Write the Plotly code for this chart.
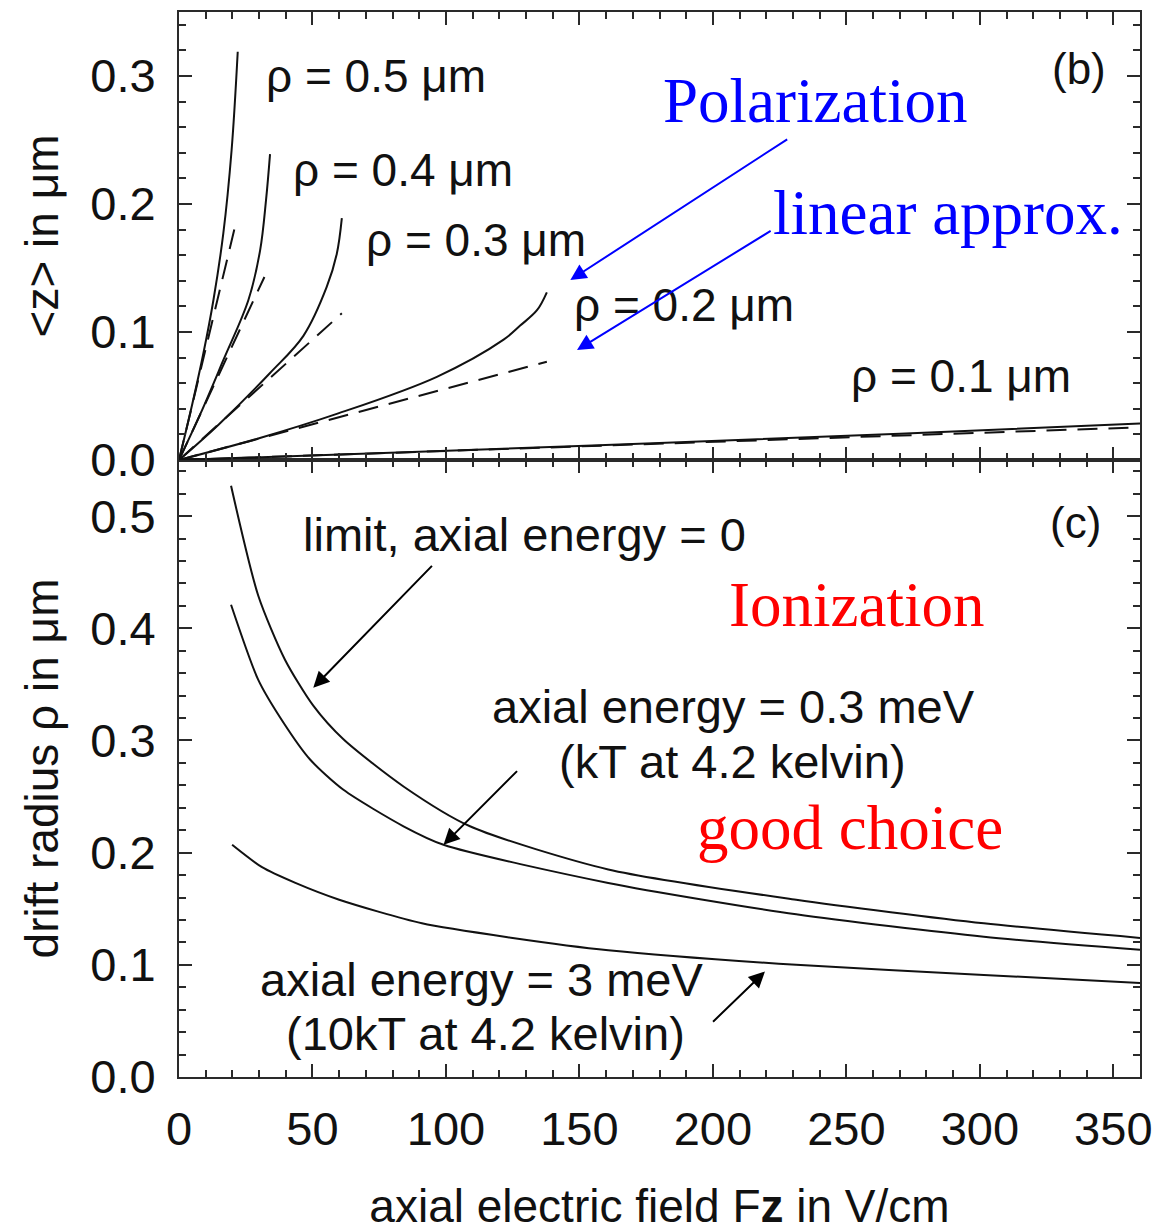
import plotly.graph_objects as go

# ---------------- panel (b): mean axial displacement <z> vs field ----------------
# solid curves: full polarization result, one per drift radius
z05_x = [0, 5, 9.1, 12.9, 16.6, 19.7, 22.0]
z05_y = [0, 0.044, 0.083, 0.125, 0.177, 0.242, 0.319]
z04_x = [0, 8, 16.6, 26.0, 30.4, 32.6, 34.1]
z04_y = [0, 0.036, 0.078, 0.125, 0.164, 0.203, 0.239]
z03_x = [0, 15, 34.1, 46.6, 55.3, 59.1, 61.0]
z03_y = [0, 0.028, 0.068, 0.097, 0.135, 0.161, 0.189]
z02_x = [0, 30, 59.1, 96.6, 121.6, 127.8, 134.1, 137.8]
z02_y = [0, 0.017, 0.036, 0.065, 0.094, 0.105, 0.117, 0.131]
z01_x = [0, 90, 180, 270, 360]
z01_y = [0, 0.0065, 0.0133, 0.0205, 0.0286]

# dashed lines: linear approximation (start and end points)
lin05_x, lin05_y = [0, 21.4], [0, 0.186]
lin04_x, lin04_y = [0, 32.0], [0, 0.143]
lin03_x, lin03_y = [0, 61.0], [0, 0.1146]
lin02_x, lin02_y = [0, 137.8], [0, 0.0768]
lin01_x, lin01_y = [0, 356], [0, 0.0252]

# ---------------- panel (c): drift radius vs field ----------------
lim_x = [19.5, 29.7, 39.7, 50.3, 61.6, 84.1, 109, 160.8, 231.2, 301.5, 360]
lim_y = [0.527, 0.429, 0.372, 0.331, 0.301, 0.259, 0.2235, 0.185, 0.158, 0.137, 0.124]
e03_x = [19.5, 29.7, 39.1, 49.1, 61.6, 84.1, 99.1, 160.8, 231.2, 301.5, 360]
e03_y = [0.421, 0.354, 0.316, 0.283, 0.256, 0.2235, 0.207, 0.173, 0.145, 0.125, 0.1134]
e3_x = [19.9, 31.1, 43.6, 60, 91, 125, 160.8, 231.2, 301.5, 360]
e3_y = [0.207, 0.187, 0.173, 0.158, 0.137, 0.124, 0.113, 0.1, 0.091, 0.0837]

x_range = [0, 360]
zb_range = [0, 0.35]
rc_range = [0, 0.55]

SANS = "Liberation Sans, Arial, sans-serif"
SERIF = "Liberation Serif, Times New Roman, serif"
INK = "#111111"
FRAME = "#2a2a2a"

fig = go.Figure()

solid = dict(color=INK, width=2)
dashed = dict(color=INK, width=2, dash="20px,11px")

for xs, ys in [(z05_x, z05_y), (z04_x, z04_y), (z03_x, z03_y), (z02_x, z02_y), (z01_x, z01_y)]:
    fig.add_trace(go.Scatter(x=xs, y=ys, mode="lines", line=dict(solid, shape="spline"),
                             xaxis="x2", yaxis="y2", showlegend=False, hoverinfo="skip"))
for xs, ys in [(lin05_x, lin05_y), (lin04_x, lin04_y), (lin03_x, lin03_y), (lin02_x, lin02_y), (lin01_x, lin01_y)]:
    fig.add_trace(go.Scatter(x=xs, y=ys, mode="lines", line=dashed,
                             xaxis="x2", yaxis="y2", showlegend=False, hoverinfo="skip"))
for xs, ys in [(lim_x, lim_y), (e03_x, e03_y), (e3_x, e3_y)]:
    fig.add_trace(go.Scatter(x=xs, y=ys, mode="lines",
                             line=dict(solid, shape="spline", smoothing=0.7),
                             xaxis="x", yaxis="y", showlegend=False, hoverinfo="skip"))

SPLIT = 617 / 1065

common_axis = dict(
    showline=True, linewidth=2, linecolor=FRAME, mirror="ticks",
    ticks="inside", ticklen=13, tickwidth=2, tickcolor=FRAME,
    showgrid=False, zeroline=False, automargin=False,
    tickfont=dict(family=SANS, size=47, color="#111"),
)
minor_ticks = dict(ticks="inside", ticklen=7, tickwidth=2, tickcolor=FRAME)

fig.update_layout(
    width=1165, height=1232,
    margin=dict(l=179, r=25, t=12, b=155),
    paper_bgcolor="white", plot_bgcolor="white",
    xaxis=dict(common_axis, domain=[0, 1], anchor="y", range=x_range,
               tickvals=[0, 50, 100, 150, 200, 250, 300, 350],
               minor=dict(minor_ticks, dtick=10),
               ticklabelstandoff=10,
               title=dict(text="axial electric field F<b>z</b> in V/cm",
                          font=dict(family=SANS, size=46, color="#111"), standoff=53)),
    xaxis2=dict(common_axis, domain=[0, 1], anchor="y2", range=x_range, matches="x",
                tickvals=[0, 50, 100, 150, 200, 250, 300, 350], showticklabels=False,
                minor=dict(minor_ticks, dtick=10)),
    yaxis=dict(common_axis, domain=[0, SPLIT], anchor="x", range=rc_range,
               tickvals=[0, 0.1, 0.2, 0.3, 0.4, 0.5], tickformat=".1f",
               minor=dict(minor_ticks, dtick=0.02),
               ticklabelstandoff=12,
               title=dict(text="drift radius \u03c1 in \u03bcm",
                          font=dict(family=SANS, size=46, color="#111"), standoff=17)),
    yaxis2=dict(common_axis, domain=[SPLIT, 1], anchor="x2", range=zb_range,
                tickvals=[0, 0.1, 0.2, 0.3], tickformat=".1f",
                minor=dict(minor_ticks, dtick=0.02),
                ticklabelstandoff=12,
                title=dict(text="&lt;z&gt; in \u03bcm",
                           font=dict(family=SANS, size=46, color="#111"), standoff=17)),
)

ann = []


def label(text, x, y, ax, size, family=SANS, color="#111"):
    xr, yr = ("x2", "y2") if ax == "top" else ("x", "y")
    ann.append(dict(text=text, x=x, y=y, xref=xr, yref=yr, showarrow=False,
                    xanchor="center", yanchor="middle",
                    font=dict(family=family, size=size, color=color)))


def arrow(x0, y0, x1, y1, ax, color, width=2):
    xr, yr = ("x2", "y2") if ax == "top" else ("x", "y")
    ann.append(dict(text="", x=x1, y=y1, ax=x0, ay=y0, xref=xr, yref=yr,
                    axref=xr, ayref=yr, showarrow=True, arrowhead=2,
                    arrowsize=1.6, arrowwidth=width, arrowcolor=color))


# panel (b) labels
label("\u03c1 = 0.5 \u03bcm", 73.8, 0.300, "top", 46)
label("\u03c1 = 0.4 \u03bcm", 84.0, 0.2266, "top", 46)
label("\u03c1 = 0.3 \u03bcm", 111.3, 0.1719, "top", 46)
label("\u03c1 = 0.2 \u03bcm", 189.0, 0.121, "top", 46)
label("\u03c1 = 0.1 \u03bcm", 293.0, 0.0656, "top", 46)
label("(b)", 337.3, 0.306, "top", 44)
label("Polarization", 238.4, 0.2805, "top", 63, SERIF, "#0000ff")
label("linear approx.", 288.2, 0.193, "top", 63, SERIF, "#0000ff")
arrow(228.4, 0.2513, 146.6, 0.1406, "top", "#0000ff")
arrow(222.2, 0.1797, 149.1, 0.0859, "top", "#0000ff")

# panel (c) labels
label("(c)", 335.8, 0.4946, "bottom", 44)
label("limit, axial energy = 0", 129.3, 0.484, "bottom", 47)
label("Ionization", 253.7, 0.4205, "bottom", 63, SERIF, "#ff0000")
label("axial energy = 0.3 meV", 207.6, 0.330, "bottom", 47)
label("(kT at 4.2 kelvin)", 207.3, 0.281, "bottom", 47)
label("good choice", 251.5, 0.222, "bottom", 63, SERIF, "#ff0000")
label("axial energy = 3 meV", 113.2, 0.0866, "bottom", 47)
label("(10kT at 4.2 kelvin)", 115.0, 0.039, "bottom", 47)
arrow(95.3, 0.457, 50.3, 0.347, "bottom", "#000000")
arrow(127.2, 0.274, 99.1, 0.207, "bottom", "#000000")
arrow(199.5, 0.048, 219.5, 0.094, "bottom", "#000000")

fig.update_layout(annotations=ann)

fig.write_html("out.html")
